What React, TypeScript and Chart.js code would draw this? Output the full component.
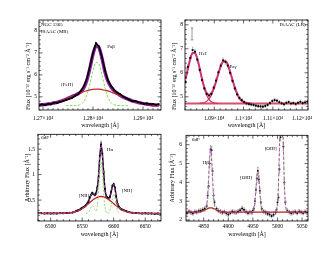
import React, { useEffect, useRef } from "react";
import { Chart, registerables } from "chart.js";

Chart.register(...registerables);

const FONT = "'Liberation Serif', 'Times New Roman', serif";
Chart.defaults.font.family = FONT;
Chart.defaults.color = "#000";

// ---------- Top-left: NGC 1365, ISAAC (MR), Pa-beta ----------
const tlWave = [12692, 12698, 12704, 12710, 12716, 12722, 12728, 12734, 12740, 12746, 12752, 12758, 12764, 12770, 12776, 12782, 12788, 12794, 12800, 12806, 12812, 12818, 12824, 12830, 12836, 12842, 12848, 12854, 12860, 12866, 12872, 12878, 12884, 12890, 12896, 12902, 12908, 12914, 12920, 12926, 12932];
const tlFlux = [4.60, 4.66, 4.62, 4.69, 4.66, 4.74, 4.72, 4.78, 4.80, 4.86, 4.90, 4.95, 5.05, 5.12, 5.28, 5.50, 5.85, 6.40, 7.00, 7.45, 7.30, 6.80, 6.20, 5.75, 5.50, 5.32, 5.20, 5.12, 5.02, 4.95, 4.88, 4.80, 4.82, 4.76, 4.73, 4.68, 4.70, 4.66, 4.68, 4.64, 4.67];
const tlTotal = [4.63, 4.64, 4.65, 4.67, 4.69, 4.72, 4.75, 4.79, 4.84, 4.89, 4.95, 5.01, 5.07, 5.14, 5.24, 5.43, 5.78, 6.33, 6.94, 7.32, 7.24, 6.75, 6.13, 5.70, 5.45, 5.28, 5.17, 5.07, 4.99, 4.93, 4.87, 4.82, 4.78, 4.74, 4.71, 4.69, 4.66, 4.65, 4.63, 4.62, 4.62];
const tlBroad = [4.63, 4.64, 4.65, 4.67, 4.69, 4.72, 4.75, 4.79, 4.84, 4.89, 4.95, 5.01, 5.07, 5.13, 5.18, 5.24, 5.28, 5.32, 5.34, 5.35, 5.35, 5.33, 5.30, 5.27, 5.22, 5.16, 5.11, 5.05, 4.99, 4.93, 4.87, 4.82, 4.78, 4.74, 4.71, 4.69, 4.66, 4.65, 4.63, 4.62, 4.62];
const tlNarrowWave = [12746, 12752, 12758, 12764, 12770, 12776, 12782, 12788, 12794, 12800, 12806, 12812, 12818, 12824, 12830, 12836, 12842, 12848, 12854, 12860, 12866, 12872];
const tlNarrow = [4.60, 4.60, 4.60, 4.60, 4.61, 4.66, 4.79, 5.10, 5.61, 6.20, 6.57, 6.49, 6.01, 5.42, 4.97, 4.73, 4.64, 4.61, 4.60, 4.60, 4.60, 4.60];
const tlXTicks = [12700, 12800, 12900];
const tlYTicks = [5, 6, 7, 8];

// ---------- Top-right: ISAAC (LR), HeI + Pa-gamma ----------
const trWave = [10802, 10810, 10818, 10826, 10834, 10842, 10850, 10858, 10866, 10874, 10882, 10890, 10898, 10906, 10914, 10922, 10930, 10938, 10946, 10954, 10962, 10970, 10978, 10986, 10994, 11002, 11010, 11018, 11026, 11034, 11042, 11050, 11058, 11066, 11074, 11082, 11090, 11098, 11106, 11114, 11122, 11130, 11138, 11146, 11154, 11162, 11170, 11178, 11186, 11194, 11202, 11210, 11218];
const trFlux = [5.62, 6.25, 6.62, 6.95, 6.88, 6.55, 6.12, 5.70, 5.35, 5.12, 5.05, 5.12, 5.38, 5.68, 6.02, 6.30, 6.52, 6.45, 6.30, 6.00, 5.66, 5.35, 5.10, 4.95, 4.86, 4.78, 4.72, 4.70, 4.68, 4.66, 4.63, 4.61, 4.60, 4.59, 4.62, 4.66, 4.74, 4.82, 4.86, 4.84, 4.78, 4.73, 4.69, 4.75, 4.78, 4.72, 4.74, 4.70, 4.75, 4.79, 4.74, 4.77, 4.80];
const trErr = [0.08, 0.09, 0.10, 0.12, 0.10, 0.09, 0.08, 0.08, 0.07, 0.07, 0.07, 0.07, 0.07, 0.08, 0.08, 0.09, 0.09, 0.09, 0.08, 0.08, 0.07, 0.07, 0.06, 0.06, 0.06, 0.06, 0.06, 0.06, 0.06, 0.06, 0.06, 0.06, 0.06, 0.06, 0.06, 0.06, 0.06, 0.06, 0.07, 0.06, 0.06, 0.06, 0.07, 0.07, 0.06, 0.06, 0.07, 0.07, 0.06, 0.07, 0.07, 0.07, 0.07];
const trTotalWave = trWave.slice(0, 29);
const trTotal = [5.74, 6.18, 6.58, 6.82, 6.82, 6.58, 6.19, 5.75, 5.39, 5.15, 5.07, 5.14, 5.34, 5.64, 5.97, 6.28, 6.47, 6.49, 6.34, 6.05, 5.71, 5.39, 5.13, 4.94, 4.83, 4.77, 4.74, 4.73, 4.72];
const trHeIWave = trWave.slice(0, 15);
const trHeI = [5.74, 6.18, 6.58, 6.82, 6.82, 6.58, 6.18, 5.74, 5.35, 5.06, 4.89, 4.79, 4.75, 4.73, 4.72];
const trPaWave = trWave.slice(6, 29);
const trPa = [4.73, 4.74, 4.76, 4.81, 4.91, 5.07, 5.32, 5.63, 5.97, 6.28, 6.47, 6.49, 6.34, 6.05, 5.71, 5.39, 5.13, 4.94, 4.83, 4.77, 4.74, 4.73, 4.72];
const trContWave = [10800, 11220];
const trCont = [4.72, 4.72];
const trSampleWave = [10824];
const trSample = [7.62];
const trSampleErr = [0.25];
const trXTicks = [10900, 11000, 11100, 11200];
const trYTicks = [5, 6, 7, 8];

// ---------- Bottom-left: 6dF, H-alpha + [NII] ----------
const blWave = [6480, 6485, 6490, 6495, 6500, 6505, 6510, 6515, 6520, 6525, 6530, 6535, 6540, 6542, 6544, 6546, 6548, 6550, 6552, 6554, 6556, 6558, 6560, 6562, 6564, 6566, 6568, 6570, 6572, 6574, 6576, 6578, 6580, 6582, 6584, 6586, 6588, 6590, 6592, 6594, 6596, 6598, 6600, 6602, 6604, 6606, 6608, 6610, 6612, 6614, 6616, 6620, 6625, 6630, 6635, 6640, 6645, 6650, 6655, 6660, 6665, 6670, 6675];
const blFlux = [0.245, 0.240, 0.238, 0.242, 0.236, 0.240, 0.238, 0.243, 0.240, 0.246, 0.252, 0.258, 0.280, 0.290, 0.300, 0.310, 0.330, 0.345, 0.360, 0.375, 0.400, 0.430, 0.470, 0.550, 0.600, 0.640, 0.620, 0.600, 0.630, 0.740, 0.950, 1.380, 1.580, 1.420, 1.050, 0.720, 0.580, 0.550, 0.530, 0.560, 0.660, 0.780, 0.810, 0.740, 0.570, 0.430, 0.370, 0.340, 0.320, 0.310, 0.300, 0.280, 0.262, 0.250, 0.246, 0.240, 0.238, 0.240, 0.236, 0.238, 0.234, 0.236, 0.232];
const blErr = [0.01, 0.01, 0.01, 0.01, 0.01, 0.01, 0.01, 0.01, 0.01, 0.01, 0.01, 0.01, 0.01, 0.015, 0.015, 0.015, 0.015, 0.015, 0.015, 0.015, 0.015, 0.02, 0.02, 0.02, 0.02, 0.02, 0.02, 0.02, 0.02, 0.02, 0.035, 0.035, 0.035, 0.035, 0.035, 0.025, 0.025, 0.025, 0.025, 0.025, 0.025, 0.025, 0.025, 0.025, 0.025, 0.015, 0.015, 0.015, 0.015, 0.015, 0.015, 0.01, 0.01, 0.01, 0.01, 0.01, 0.01, 0.01, 0.01, 0.01, 0.01, 0.01, 0.01];
const blTotal = [0.240, 0.240, 0.240, 0.240, 0.240, 0.240, 0.240, 0.241, 0.242, 0.245, 0.250, 0.260, 0.276, 0.285, 0.295, 0.307, 0.320, 0.335, 0.351, 0.369, 0.389, 0.413, 0.450, 0.513, 0.592, 0.642, 0.630, 0.593, 0.591, 0.695, 0.978, 1.377, 1.580, 1.377, 0.978, 0.691, 0.571, 0.533, 0.521, 0.543, 0.628, 0.755, 0.810, 0.713, 0.545, 0.420, 0.362, 0.336, 0.320, 0.307, 0.295, 0.276, 0.260, 0.250, 0.245, 0.242, 0.240, 0.240, 0.240, 0.240, 0.240, 0.240, 0.240];
const blBroad = [0.240, 0.240, 0.240, 0.240, 0.240, 0.240, 0.240, 0.241, 0.242, 0.245, 0.250, 0.260, 0.276, 0.285, 0.295, 0.307, 0.320, 0.335, 0.351, 0.369, 0.389, 0.409, 0.430, 0.451, 0.472, 0.492, 0.510, 0.527, 0.542, 0.554, 0.563, 0.568, 0.570, 0.568, 0.563, 0.554, 0.542, 0.527, 0.510, 0.492, 0.472, 0.451, 0.430, 0.409, 0.389, 0.369, 0.351, 0.335, 0.320, 0.307, 0.295, 0.276, 0.260, 0.250, 0.245, 0.242, 0.240, 0.240, 0.240, 0.240, 0.240, 0.240, 0.240];
const blNarrowWave = [6556, 6558, 6560, 6562, 6564, 6566, 6568, 6570, 6572, 6574, 6576, 6578, 6580, 6582, 6584, 6586, 6588, 6590, 6592, 6594, 6596, 6598, 6600, 6602, 6604, 6606, 6608, 6610];
const blNarrow = [0.240, 0.244, 0.260, 0.302, 0.360, 0.390, 0.360, 0.306, 0.289, 0.381, 0.655, 1.049, 1.250, 1.049, 0.655, 0.377, 0.269, 0.246, 0.251, 0.291, 0.396, 0.544, 0.620, 0.544, 0.396, 0.291, 0.251, 0.242];
const blXTicks = [6500, 6550, 6600, 6650];
const blYTicks = [0.5, 1, 1.5];

// ---------- Bottom-right: 6dF, H-beta + [OIII] ----------
const brWave = [4816, 4820, 4824, 4828, 4832, 4836, 4840, 4844, 4848, 4852, 4856, 4858, 4860, 4862, 4864, 4866, 4868, 4870, 4872, 4876, 4880, 4884, 4888, 4892, 4896, 4900, 4904, 4908, 4912, 4916, 4920, 4924, 4928, 4932, 4936, 4940, 4944, 4948, 4950, 4952, 4954, 4956, 4958, 4960, 4962, 4964, 4966, 4968, 4972, 4976, 4980, 4984, 4988, 4992, 4996, 4998, 5000, 5002, 5004, 5006, 5008, 5010, 5012, 5014, 5016, 5020, 5024, 5028, 5032, 5036, 5040, 5044, 5048, 5052, 5056, 5060];
const brFlux = [2.38, 2.45, 2.40, 2.36, 2.44, 2.42, 2.48, 2.50, 2.55, 2.60, 2.75, 3.30, 3.80, 5.00, 5.75, 5.70, 4.60, 3.30, 2.95, 2.60, 2.50, 2.45, 2.40, 2.44, 2.36, 2.30, 2.38, 2.45, 2.42, 2.40, 2.46, 2.52, 2.62, 2.55, 2.44, 2.38, 2.42, 2.40, 2.50, 2.62, 3.00, 3.60, 4.20, 4.60, 4.15, 3.55, 2.95, 2.60, 2.45, 2.40, 2.34, 2.30, 2.22, 2.28, 2.40, 2.55, 2.95, 3.20, 4.70, 6.40, 8.90, 8.00, 5.90, 4.00, 2.95, 2.50, 2.42, 2.36, 2.40, 2.44, 2.38, 2.46, 2.42, 2.38, 2.44, 2.40];
const brErr = [0.1, 0.1, 0.1, 0.1, 0.1, 0.1, 0.1, 0.1, 0.1, 0.1, 0.1, 0.15, 0.15, 0.2, 0.2, 0.2, 0.15, 0.15, 0.1, 0.1, 0.1, 0.1, 0.1, 0.1, 0.1, 0.1, 0.1, 0.1, 0.1, 0.1, 0.1, 0.1, 0.1, 0.1, 0.1, 0.1, 0.1, 0.1, 0.1, 0.1, 0.15, 0.15, 0.2, 0.2, 0.2, 0.15, 0.15, 0.1, 0.1, 0.1, 0.1, 0.1, 0.1, 0.1, 0.1, 0.1, 0.15, 0.15, 0.2, 0.2, 0.2, 0.2, 0.2, 0.15, 0.1, 0.1, 0.1, 0.1, 0.1, 0.1, 0.1, 0.1, 0.1, 0.1, 0.1, 0.1];
const brTotal = [2.42, 2.42, 2.42, 2.42, 2.42, 2.425, 2.433, 2.451, 2.484, 2.541, 2.818, 3.337, 4.27, 5.32, 5.80, 5.32, 4.27, 3.337, 2.818, 2.541, 2.484, 2.451, 2.433, 2.425, 2.42, 2.42, 2.42, 2.42, 2.42, 2.42, 2.42, 2.42, 2.42, 2.42, 2.42, 2.42, 2.42, 2.426, 2.457, 2.58, 2.921, 3.554, 4.271, 4.60, 4.271, 3.554, 2.921, 2.58, 2.426, 2.42, 2.42, 2.42, 2.42, 2.42, 2.438, 2.531, 2.90, 3.924, 5.821, 7.972, 8.96, 7.972, 5.821, 3.924, 2.90, 2.438, 2.42, 2.42, 2.42, 2.42, 2.42, 2.42, 2.42, 2.42, 2.42, 2.42];
const brBroadWave = [4814, 4832, 4836, 4840, 4844, 4848, 4852, 4856, 4858, 4860, 4862, 4864, 4866, 4868, 4870, 4872, 4876, 4880, 4884, 4888, 4892, 4896, 5062];
const brBroad = [2.42, 2.42, 2.425, 2.433, 2.451, 2.484, 2.532, 2.587, 2.612, 2.632, 2.646, 2.65, 2.646, 2.632, 2.612, 2.587, 2.532, 2.484, 2.451, 2.433, 2.425, 2.42, 2.42];
const brNarrowWave = [4852, 4856, 4858, 4860, 4862, 4864, 4866, 4868, 4870, 4872, 4876, 4910, 4948, 4950, 4952, 4954, 4956, 4958, 4960, 4962, 4964, 4966, 4968, 4972, 4985, 4996, 4998, 5000, 5002, 5004, 5006, 5008, 5010, 5012, 5014, 5016, 5020];
const brNarrow = [2.429, 2.651, 3.145, 4.058, 5.094, 5.57, 5.094, 4.058, 3.145, 2.651, 2.429, null, 2.426, 2.457, 2.58, 2.921, 3.554, 4.271, 4.60, 4.271, 3.554, 2.921, 2.58, 2.426, null, 2.438, 2.531, 2.90, 3.924, 5.821, 7.972, 8.96, 7.972, 5.821, 3.924, 2.90, 2.438];
const brXTicks = [4850, 4900, 4950, 5000, 5050];
const brYTicks = [2, 3, 4, 5, 6];

// ---------- styles ----------
const PURPLE = "#8b1a9b";
const RED = "#c0282a";
const GREEN = "#86d95c";
const PINK = "#d2347a";
const MAGENTA = "#b44cc2";

const pts = (xs: number[], ys: (number | null)[]) => xs.map((x, i) => ({ x, y: ys[i] }));

function framePlugin(minorX: number, minorY: number) {
  return {
    id: "frame",
    afterDatasetsDraw(chart: any) {
      const { ctx, chartArea: a, scales } = chart;
      const xs = scales.x, ys = scales.y;
      const majX = xs.ticks.map((t: any) => t.value);
      const majY = ys.ticks.map((t: any) => t.value);
      const isMaj = (v: number, arr: number[], s: number) => arr.some((m) => Math.abs(m - v) < s * 0.05);
      ctx.save();
      ctx.strokeStyle = "#000";
      ctx.lineWidth = 0.6;
      ctx.beginPath();
      for (let i = Math.ceil(xs.min / minorX); i * minorX <= xs.max + 1e-9; i++) {
        const v = i * minorX;
        const p = xs.getPixelForValue(v);
        const len = isMaj(v, majX, minorX) ? 3.5 : 1.8;
        ctx.moveTo(p, a.bottom); ctx.lineTo(p, a.bottom - len);
        ctx.moveTo(p, a.top); ctx.lineTo(p, a.top + len);
      }
      for (let i = Math.ceil(ys.min / minorY - 1e-9); i * minorY <= ys.max + 1e-9; i++) {
        const v = i * minorY;
        const p = ys.getPixelForValue(v);
        const len = isMaj(v, majY, minorY) ? 3.5 : 1.8;
        ctx.moveTo(a.left, p); ctx.lineTo(a.left + len, p);
        ctx.moveTo(a.right, p); ctx.lineTo(a.right - len, p);
      }
      ctx.stroke();
      ctx.lineWidth = 0.8;
      ctx.strokeRect(a.left, a.top, a.right - a.left, a.bottom - a.top);
      ctx.restore();
    },
  };
}

const errorPlugin = {
  id: "errbars",
  beforeDatasetsDraw(chart: any) {
    const { ctx, chartArea: a, scales } = chart;
    ctx.save();
    ctx.beginPath();
    ctx.rect(a.left, a.top, a.right - a.left, a.bottom - a.top);
    ctx.clip();
    chart.data.datasets.forEach((ds: any) => {
      if (!ds.errs) return;
      ctx.strokeStyle = ds.errColor || "#888";
      ctx.lineWidth = ds.errWidth || 0.6;
      const c = ds.capW ?? 0.8;
      ctx.beginPath();
      ds.data.forEach((pt: any, j: number) => {
        const e = ds.errs[j];
        const x = scales.x.getPixelForValue(pt.x);
        const y1 = scales.y.getPixelForValue(pt.y - e);
        const y2 = scales.y.getPixelForValue(pt.y + e);
        ctx.moveTo(x, y1); ctx.lineTo(x, y2);
        ctx.moveTo(x - c, y1); ctx.lineTo(x + c, y1);
        ctx.moveTo(x - c, y2); ctx.lineTo(x + c, y2);
      });
      ctx.stroke();
    });
    ctx.restore();
  },
};

type Note = { text: string; x: number; y: number; align?: CanvasTextAlign };
function notesPlugin(items: Note[]) {
  return {
    id: "notes",
    afterDatasetsDraw(chart: any) {
      const { ctx, scales } = chart;
      ctx.save();
      ctx.fillStyle = "#000";
      ctx.font = `5px ${FONT}`;
      ctx.textBaseline = "middle";
      items.forEach((it) => {
        ctx.textAlign = it.align || "center";
        ctx.fillText(it.text, scales.x.getPixelForValue(it.x), scales.y.getPixelForValue(it.y));
      });
      ctx.restore();
    },
  };
}

const useTicks = (vals: number[]) => (s: any) => {
  s.ticks = vals.map((v) => ({ value: v }));
};

function mkX(min: number, max: number, tickVals: number[], fmt: (v: number) => string, boxH: number, labelPad: number) {
  return {
    type: "linear",
    position: "bottom",
    min,
    max,
    grid: { display: false, drawTicks: false },
    border: { display: false },
    afterBuildTicks: useTicks(tickVals),
    ticks: { autoSkip: false, maxRotation: 0, minRotation: 0, padding: labelPad, font: { size: 5.5, family: FONT }, color: "#000", callback: (v: any) => fmt(Number(v)) },
    title: { display: true, text: "wavelength [Å]", font: { size: 6, family: FONT }, color: "#000", padding: { top: 0, bottom: 0 } },
    afterFit: (s: any) => { s.height = boxH; },
  };
}

function mkY(min: number, max: number, tickVals: number[], title: string, boxW: number, labelPad: number, align: string) {
  return {
    type: "linear",
    position: "left",
    min,
    max,
    grid: { display: false, drawTicks: false },
    border: { display: false },
    afterBuildTicks: useTicks(tickVals),
    ticks: { autoSkip: false, padding: labelPad, font: { size: 5.5, family: FONT }, color: "#000", callback: (v: any) => String(Number(v)) },
    title: { display: true, text: title, align, font: { size: 6, family: FONT }, color: "#000", padding: { top: 0, bottom: 0 } },
    afterFit: (s: any) => { s.width = boxW; },
  };
}

const sci = (v: number) => `${v / 1e4}×10⁴`;
const plain = (v: number) => String(v);

function baseOptions(padding: any, x: any, y: any) {
  return {
    animation: false,
    responsive: false,
    devicePixelRatio: 1,
    events: [],
    layout: { padding },
    plugins: { legend: { display: false }, tooltip: { enabled: false } },
    scales: { x, y },
  };
}

const FLUX_TITLE = "Flux [10⁻¹⁶ erg s⁻¹ cm⁻² Å⁻¹]";
const ARB_TITLE = "Arbitrary Flux [Å⁻¹]";

const line = (extra: any) => ({ pointRadius: 0, borderWidth: 1, clip: 0, cubicInterpolationMode: "monotone", ...extra });

function buildTL() {
  return {
    type: "line",
    data: {
      datasets: [
        { data: pts(tlWave, tlFlux), borderColor: "#000", backgroundColor: "#000", borderWidth: 1.6, pointRadius: 0.9, pointBorderWidth: 0, pointBackgroundColor: "#000", clip: 0 },
        line({ data: pts(tlNarrowWave, tlNarrow), borderColor: GREEN, borderDash: [2.5, 1.5] }),
        line({ data: pts(tlWave, tlBroad), borderColor: RED, borderWidth: 1.2 }),
        line({ data: pts(tlWave, tlTotal), borderColor: PURPLE, borderWidth: 3.4 }),
      ],
    },
    options: baseOptions(
      { left: 25, right: 4, top: 20, bottom: 2.9 },
      mkX(12692, 12936, tlXTicks, sci, 19.1, 5),
      mkY(4.4, 8.5, tlYTicks, FLUX_TITLE, 14, 2, "start")
    ),
    plugins: [
      errorPlugin,
      framePlugin(10, 0.2),
      notesPlugin([
        { text: "NGC 1365", x: 12696, y: 8.27, align: "left" },
        { text: "ISAAC (MR)", x: 12696, y: 7.95, align: "left" },
        { text: "Paβ", x: 12836, y: 7.27 },
        { text: "[FeII]", x: 12748, y: 5.54 },
      ]),
    ],
  };
}

function buildTR() {
  return {
    type: "line",
    data: {
      datasets: [
        { data: pts(trWave, trFlux), errs: trErr, errColor: "#999", showLine: false, pointRadius: 1.1, pointBorderWidth: 0, pointBackgroundColor: "#000", clip: 0 },
        { data: pts(trSampleWave, trSample), errs: trSampleErr, errColor: "#555", capW: 1.3, showLine: false, pointRadius: 0, clip: 0 },
        line({ data: pts(trTotalWave, trTotal), borderColor: PINK, borderWidth: 2 }),
        line({ data: pts(trHeIWave, trHeI), borderColor: "#d0305e", borderWidth: 1.2 }),
        line({ data: pts(trPaWave, trPa), borderColor: "#d0305e", borderWidth: 1.2 }),
        line({ data: pts(trContWave, trCont), borderColor: "#d4506e", borderWidth: 1.8 }),
      ],
    },
    options: baseOptions(
      { left: 6, right: 22, top: 20, bottom: 2.9 },
      mkX(10800, 11220, trXTicks, sci, 19.1, 5),
      mkY(4.45, 8.2, trYTicks, FLUX_TITLE, 14, 2, "start")
    ),
    plugins: [
      errorPlugin,
      framePlugin(20, 0.2),
      notesPlugin([
        { text: "ISAAC (LR)", x: 11212, y: 8.0, align: "right" },
        { text: "HeI", x: 10861, y: 6.78 },
        { text: "Paγ", x: 10964, y: 6.24 },
      ]),
    ],
  };
}

function buildBL() {
  return {
    type: "line",
    data: {
      datasets: [
        line({ data: pts(blWave, blTotal), borderColor: MAGENTA, borderDash: [3, 2], borderWidth: 1 }),
        line({ data: pts(blNarrowWave, blNarrow), borderColor: GREEN, borderDash: [2, 1.5], borderWidth: 0.9 }),
        line({ data: pts(blWave, blBroad), borderColor: "#b3211f", borderWidth: 1.3 }),
        { data: pts(blWave, blFlux), errs: blErr, errColor: "#777", borderColor: "#000", borderWidth: 1.5, pointRadius: 1, pointBorderWidth: 0, pointBackgroundColor: "#000", clip: 0 },
      ],
    },
    options: baseOptions(
      { left: 24, right: 4, top: 2, bottom: 17 },
      mkX(6480, 6675, blXTicks, plain, 17, 2.2),
      mkY(0.09, 1.79, blYTicks, ARB_TITLE, 14, 3, "center")
    ),
    plugins: [
      errorPlugin,
      framePlugin(10, 0.1),
      notesPlugin([
        { text: "6dF", x: 6485, y: 1.72, align: "left" },
        { text: "Hα", x: 6594, y: 1.49 },
        { text: "[NII]", x: 6553, y: 0.59 },
        { text: "[NII]", x: 6621, y: 0.69 },
      ]),
    ],
  };
}

function buildBR() {
  return {
    type: "line",
    data: {
      datasets: [
        line({ data: pts(brWave, brTotal), borderColor: MAGENTA, borderDash: [3, 2], borderWidth: 1 }),
        line({ data: pts(brNarrowWave, brNarrow), borderColor: GREEN, borderDash: [2, 1.5], borderWidth: 0.9 }),
        line({ data: pts(brBroadWave, brBroad), borderColor: "#b3211f", borderWidth: 1.3 }),
        { data: pts(brWave, brFlux), errs: brErr, errColor: "#777", showLine: false, pointRadius: 1, pointBorderWidth: 0, pointBackgroundColor: "#000", clip: 0 },
      ],
    },
    options: baseOptions(
      { left: 4, right: 22, top: 1, bottom: 17 },
      mkX(4814, 5062, brXTicks, plain, 17, 2.2),
      mkY(1.95, 6.5, brYTicks, ARB_TITLE, 17, 4, "center")
    ),
    plugins: [
      errorPlugin,
      framePlugin(10, 0.2),
      notesPlugin([
        { text: "6dF", x: 4826, y: 6.25, align: "left" },
        { text: "Hβ", x: 4854, y: 5.02 },
        { text: "[OIII]", x: 4936, y: 4.27 },
        { text: "[OIII]", x: 4986, y: 5.81 },
      ]),
    ],
  };
}

type Spec = { left: number; top: number; width: number; height: number; build: () => any };

function Panel({ spec }: { spec: Spec }) {
  const ref = useRef<HTMLCanvasElement>(null);
  useEffect(() => {
    const chart = new Chart(ref.current as HTMLCanvasElement, spec.build() as any);
    return () => chart.destroy();
  }, []);
  return (
    <div style={{ position: "absolute", left: spec.left, top: spec.top, width: spec.width, height: spec.height }}>
      <canvas ref={ref} width={spec.width} height={spec.height} style={{ width: spec.width, height: spec.height, display: "block" }} />
    </div>
  );
}

const specs: Spec[] = [
  { left: 0, top: 0, width: 165, height: 132, build: buildTL },
  { left: 165, top: 0, width: 165, height: 132, build: buildTR },
  { left: 0, top: 128, width: 165, height: 127, build: buildBL },
  { left: 165, top: 128, width: 165, height: 127, build: buildBR },
];

export default function App() {
  return (
    <div style={{ position: "fixed", left: 0, top: 0, width: 330, height: 255, background: "#fff", overflow: "hidden" }}>
      {specs.map((s, i) => (
        <Panel key={i} spec={s} />
      ))}
    </div>
  );
}
